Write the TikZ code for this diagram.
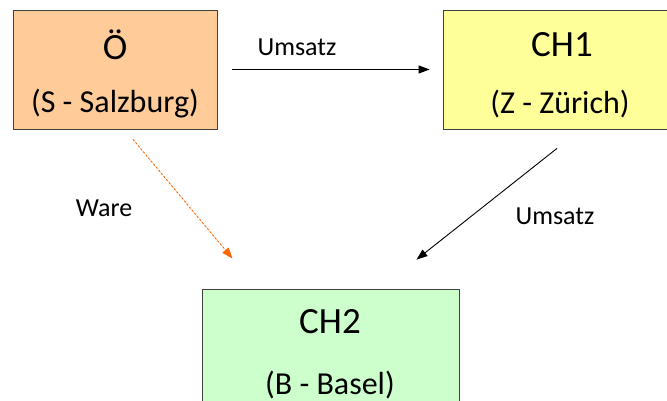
\documentclass[tikz,border=0pt]{standalone}
\usepackage{fontspec}
\setmainfont{Carlito}
\usetikzlibrary{calc,arrows.meta}

\definecolor{peach}{RGB}{255,204,153}
\definecolor{paleyellow}{RGB}{255,255,153}
\definecolor{palegreen}{RGB}{204,255,204}
\definecolor{boxline}{RGB}{64,64,64}
\definecolor{wareorange}{RGB}{255,102,0}

\tikzset{
  landbox/.style={draw=boxline,line width=0.8,minimum width=204,minimum height=119,inner sep=0},
  bigtxt/.style={font=\fontsize{37}{40}\selectfont},
  subtxt/.style={font=\fontsize{32}{36}\selectfont},
  flowtxt/.style={font=\fontsize{26}{30}\selectfont},
  flow/.style={line width=0.9,-{Triangle[length=11,width=8]}}
}

\begin{document}
\begin{tikzpicture}[x=1pt,y=1pt]

\useasboundingbox (0,0) rectangle (667,401);
\clip (0,0) rectangle (667,401);

\node [landbox,fill=peach] (oe) at (115,331.5) {};
\node [landbox,fill=paleyellow,minimum width=234] (ch1) at (560,331.5) {};
\node [landbox,fill=palegreen,minimum width=257] (ch2) at (330.5,52.5) {};

\node [bigtxt] (oeName) at (115,356) {Ö};
\node [subtxt] (oeCity) at (115,297) {(S - Salzburg)};
\node [bigtxt] (chaName) at (562,356) {CH1};
\node [subtxt] (chaCity) at (560,297) {(Z - Zürich)};
\node [bigtxt] (chbName) at (330,79) {CH2};
\node [subtxt] (chbCity) at (330,16) {(B - Basel)};

\draw [flow,shorten <=15,shorten >=13] (oe.east) -- (ch1.west);
\draw [flow] ($(ch1.south)+(-3,-19)$) -- ($(ch2.north)+(86,29)$);
\draw [flow,draw=wareorange,fill=wareorange,dash pattern=on 2 off 2] ($(oe.south)+(18,-10)$) -- ($(ch2.north)+(-98,30)$);

\node [flowtxt] (umsatzTop) at (297,354) {Umsatz};
\node [flowtxt] (umsatzRight) at (555,185) {Umsatz};
\node [flowtxt] (wareLbl) at (104,193) {Ware};

\end{tikzpicture}
\end{document}
